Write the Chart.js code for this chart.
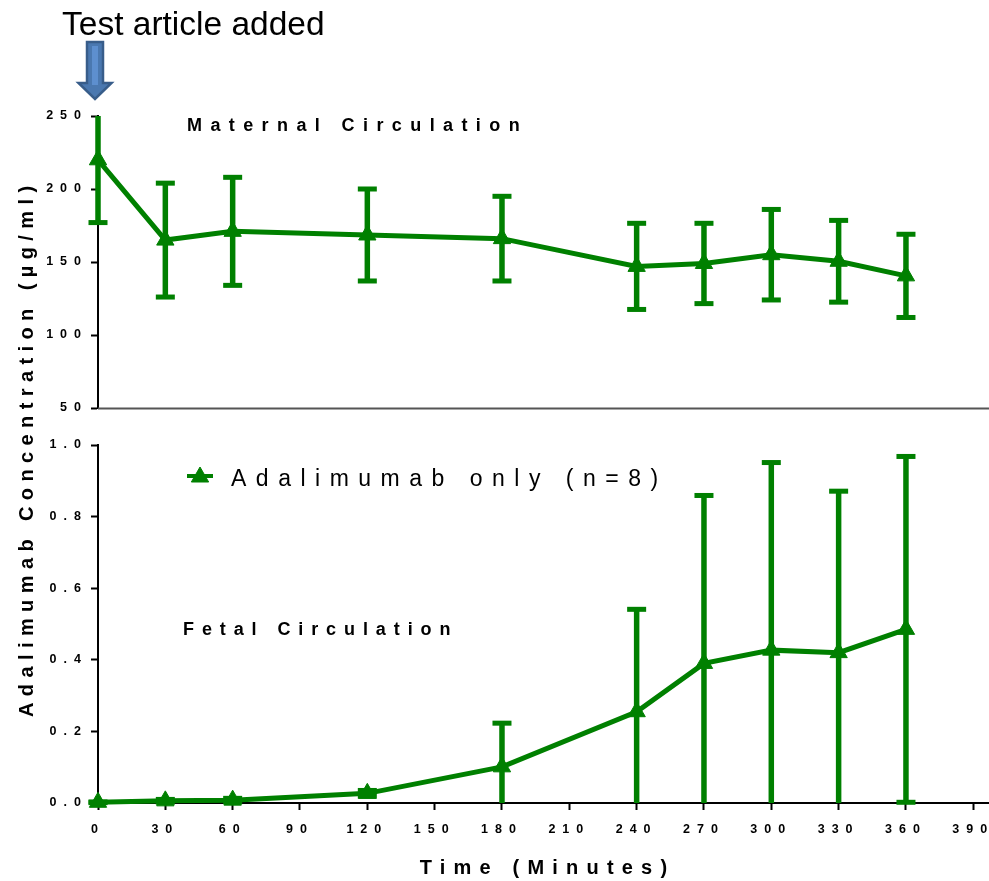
<!DOCTYPE html>
<html>
<head>
<meta charset="utf-8">
<script src="https://cdn.jsdelivr.net/npm/chart.js@4.4.1/dist/chart.umd.min.js"></script>
<style>
  html, body { margin: 0; padding: 0; background: #fff; }
  #wrap { position: relative; width: 989px; height: 881px; }
  #wrap canvas { position: absolute; left: 0; top: 0; }
</style>
</head>
<body>
<div id="wrap">
  <canvas id="maternal" width="989" height="881"></canvas>
  <canvas id="fetal" width="989" height="881"></canvas>
</div>
<script>
// Sampling times (minutes after the test article was added)
const timePoints = [0, 30, 60, 120, 180, 240, 270, 300, 330, 360];

// Maternal circulation, mean and SD (µg/ml)
const maternalMean = [220, 165, 171, 168.5, 166, 147, 149, 155, 150.5, 140.5];
const maternalSD   = [43, 39, 37, 31.5, 29, 29.5, 27.5, 31, 28, 28.5];

// Fetal circulation, mean and SD (µg/ml)
const fetalMean = [0.002, 0.006, 0.008, 0.027, 0.101, 0.255, 0.390, 0.427, 0.420, 0.485];
const fetalSD   = [0.001, 0.004, 0.005, 0.008, 0.122, 0.286, 0.469, 0.524, 0.451, 0.483];

// Axis ticks
const timeTicks     = [0, 30, 60, 90, 120, 150, 180, 210, 240, 270, 300, 330, 360, 390];
const maternalTicks = [50, 100, 150, 200, 250];
const fetalTicks    = [0, 0.2, 0.4, 0.6, 0.8, 1.0];

// Annotation text
const seriesLabel   = 'Adalimumab only (n=8)';
const additionLabel = 'Test article added';
const additionTime  = 0;
const maternalTitle = 'Maternal Circulation';
const fetalTitle    = 'Fetal Circulation';
const yTitle        = 'Adalimumab Concentration (µg/ml)';
const xTitle        = 'Time (Minutes)';

const GREEN = '#008000';
const FAMILY = "'Liberation Sans', Arial, Helvetica, sans-serif";

Chart.defaults.font.family = FAMILY;
Chart.defaults.font.size = 12;
Chart.defaults.font.weight = 'bold';
Chart.defaults.color = '#000';

const toPoints = (xs, ys) => xs.map((x, i) => ({ x, y: ys[i] }));

// Wide letter spacing for the tick labels
const tickSpacing = {
  id: 'tickSpacing',
  beforeUpdate(chart) { chart.ctx.letterSpacing = '7px'; },
  beforeDraw(chart) { chart.ctx.letterSpacing = '7px'; }
};

function spacedText(ctx, text, x, y, font, spacing, align, baseline) {
  ctx.save();
  ctx.font = font;
  ctx.letterSpacing = spacing + 'px';
  ctx.fillStyle = '#000';
  ctx.textAlign = align || 'left';
  ctx.textBaseline = baseline || 'alphabetic';
  ctx.fillText(text, x, y);
  ctx.restore();
}

// Mean ± SD bars, clipped at the axis limits (no cap where clipped)
function errorBarPlugin(means, sds) {
  return {
    id: 'errorBars',
    beforeDatasetsDraw(chart) {
      const { ctx } = chart;
      const xs = chart.scales.x, ys = chart.scales.y;
      ctx.save();
      ctx.strokeStyle = GREEN;
      ctx.fillStyle = GREEN;
      ctx.lineCap = 'butt';
      means.forEach((m, i) => {
        const x = xs.getPixelForValue(timePoints[i]);
        const hi = m + sds[i], lo = m - sds[i];
        const yHi = ys.getPixelForValue(Math.min(hi, ys.max));
        const yLo = ys.getPixelForValue(Math.max(lo, ys.min));
        ctx.lineWidth = 5.5;
        ctx.beginPath();
        ctx.moveTo(x, yHi);
        ctx.lineTo(x, yLo);
        ctx.stroke();
        const capW = 19, capT = 5;
        if (hi <= ys.max) ctx.fillRect(x - capW / 2, yHi - capT / 2, capW, capT);
        if (lo >= ys.min) ctx.fillRect(x - capW / 2, yLo - capT / 2, capW, capT);
      });
      ctx.restore();
    }
  };
}

function seriesDataset(means) {
  return {
    label: seriesLabel,
    data: toPoints(timePoints, means),
    borderColor: GREEN,
    backgroundColor: GREEN,
    borderWidth: 5,
    pointStyle: 'triangle',
    pointRadius: 10,
    pointBorderWidth: 1,
    pointBackgroundColor: GREEN,
    pointBorderColor: GREEN,
    tension: 0,
    clip: false
  };
}

function yAxis(min, max, ticks, fmt) {
  return {
    type: 'linear',
    position: 'left',
    min, max,
    afterBuildTicks: s => { s.ticks = ticks.map(v => ({ value: v })); },
    afterFit: s => { s.width = 98; },
    border: { display: true, color: '#000', width: 2 },
    grid: { drawOnChartArea: false, drawTicks: true, tickLength: 7, tickWidth: 2, tickColor: '#000' },
    ticks: { padding: 3, color: '#000', font: { size: 12.5 }, callback: fmt }
  };
}

function xAxis(show) {
  return {
    type: 'linear',
    min: 0,
    max: 397,
    display: show,
    afterBuildTicks: s => { s.ticks = timeTicks.map(v => ({ value: v })); },
    afterFit: s => {
      if (show) s.height = 78;
      s.paddingLeft = 0;
      s.paddingRight = 0;
    },
    border: { display: true, color: '#000', width: 2 },
    grid: { drawOnChartArea: false, drawTicks: true, tickLength: 7, tickWidth: 2, tickColor: '#000' },
    ticks: { padding: 12, color: '#000', font: { size: 12.5 }, maxRotation: 0, autoSkip: false }
  };
}

// Upper panel decorations: baseline, titles and the dosing arrow
const maternalDecor = {
  id: 'maternalDecor',
  afterDraw(chart) {
    const { ctx, chartArea } = chart;
    const xs = chart.scales.x;

    ctx.save();
    ctx.strokeStyle = '#555';
    ctx.lineWidth = 2;
    ctx.beginPath();
    ctx.moveTo(chartArea.left, chartArea.bottom + 0.5);
    ctx.lineTo(chart.width, chartArea.bottom + 0.5);
    ctx.stroke();
    ctx.restore();

    spacedText(ctx, maternalTitle, 187, 131, 'bold 18px ' + FAMILY, 8.4);

    // shared y-axis title, bottom-up
    ctx.save();
    ctx.translate(27, 717);
    ctx.rotate(-Math.PI / 2);
    spacedText(ctx, yTitle, 0, 0, 'bold 20px ' + FAMILY, 6.4, 'left', 'middle');
    ctx.restore();

    spacedText(ctx, additionLabel, 62, 35, '33.5px ' + FAMILY, 0);

    // block arrow pointing at the addition time
    const cx = xs.getPixelForValue(additionTime) - 3;
    const shaft = 8, head = 16.5, top = 42, neck = 83, tip = 99;
    ctx.save();
    ctx.beginPath();
    ctx.moveTo(cx - shaft, top);
    ctx.lineTo(cx + shaft, top);
    ctx.lineTo(cx + shaft, neck);
    ctx.lineTo(cx + head, neck);
    ctx.lineTo(cx, tip);
    ctx.lineTo(cx - head, neck);
    ctx.lineTo(cx - shaft, neck);
    ctx.closePath();
    ctx.fillStyle = '#4a78b0';
    ctx.fill();
    ctx.lineWidth = 2.5;
    ctx.strokeStyle = '#385d8a';
    ctx.stroke();
    ctx.fillStyle = '#5d8fcf';
    ctx.fillRect(cx - 3, top + 4, 6, neck - top - 2);
    ctx.restore();
  }
};

// Lower panel decorations: title, legend, x-axis title
const fetalDecor = {
  id: 'fetalDecor',
  afterDraw(chart) {
    const { ctx, chartArea } = chart;
    spacedText(ctx, fetalTitle, 183, 635, 'bold 18px ' + FAMILY, 7.9);

    const ds = chart.data.datasets[0];
    ctx.save();
    ctx.strokeStyle = ds.borderColor;
    ctx.lineWidth = 4;
    ctx.beginPath();
    ctx.moveTo(187, 476);
    ctx.lineTo(213, 476);
    ctx.stroke();
    ctx.fillStyle = ds.pointBackgroundColor;
    ctx.strokeStyle = ds.pointBorderColor;
    ctx.lineWidth = 1;
    Chart.helpers.drawPoint(ctx, { pointStyle: 'triangle', radius: 10, borderWidth: 1 }, 200, 477);
    ctx.restore();
    spacedText(ctx, ds.label, 231, 486, '400 23px ' + FAMILY, 9.5);

    spacedText(ctx, xTitle, (chartArea.left + chart.width) / 2 + 4, 874, 'bold 20px ' + FAMILY, 8.2, 'center');
  }
};

const commonOptions = (top, bottom) => ({
  responsive: false,
  animation: false,
  devicePixelRatio: 1,
  layout: { autoPadding: false, padding: { top, bottom, left: 0, right: 0 } },
  plugins: { legend: { display: false }, tooltip: { enabled: false } }
});

new Chart(document.getElementById('maternal'), {
  type: 'line',
  data: { datasets: [seriesDataset(maternalMean)] },
  options: Object.assign(commonOptions(116, 473), {
    scales: {
      x: xAxis(false),
      y: yAxis(50, 250, maternalTicks, v => String(v))
    }
  }),
  plugins: [tickSpacing, errorBarPlugin(maternalMean, maternalSD), maternalDecor]
});

new Chart(document.getElementById('fetal'), {
  type: 'line',
  data: { datasets: [seriesDataset(fetalMean)] },
  options: Object.assign(commonOptions(445, 0), {
    scales: {
      x: xAxis(true),
      y: yAxis(0, 1, fetalTicks, v => Number(v).toFixed(1))
    }
  }),
  plugins: [tickSpacing, errorBarPlugin(fetalMean, fetalSD), fetalDecor]
});
</script>
</body>
</html>
